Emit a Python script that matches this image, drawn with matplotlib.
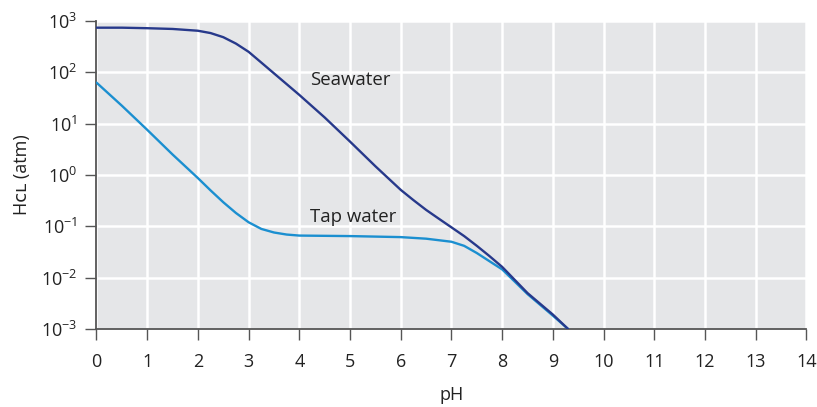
import matplotlib
matplotlib.use("Agg")
import matplotlib.pyplot as plt
from matplotlib.ticker import FixedLocator, NullLocator

plt.rcParams['font.family'] = ['Open Sans', 'DejaVu Sans']
plt.rcParams['mathtext.fontset'] = 'custom'
plt.rcParams['mathtext.rm'] = 'Open Sans'

# HCl partial pressure (atm) versus pH
ph_sea = [0, 0.5, 1, 1.5, 2, 2.25, 2.5, 2.75, 3, 3.25, 3.5, 3.75, 4, 4.5, 5, 5.5,
          5.75, 6, 6.25, 6.5, 6.75, 7, 7.25, 7.5, 7.75, 8, 8.5, 9, 9.3]
hcl_sea = [741, 741, 724, 700, 646, 582, 484, 363, 251, 155, 95.5, 58.9, 36.3, 13.2,
           4.47, 1.48, 0.871, 0.513, 0.324, 0.209, 0.141, 0.0955, 0.0646, 0.0417,
           0.0263, 0.0162, 0.00501, 0.00191, 0.001]

ph_tap = [0, 0.5, 1, 1.5, 2, 2.25, 2.5, 2.75, 3, 3.25, 3.5, 3.75, 4, 5, 6, 6.5, 7,
          7.25, 7.5, 7.75, 8, 8.5, 9, 9.3]
hcl_tap = [63.1, 22.4, 7.59, 2.51, 0.871, 0.501, 0.295, 0.182, 0.120, 0.0891, 0.0759,
           0.0692, 0.0661, 0.0646, 0.0617, 0.0575, 0.0501, 0.0417, 0.0302, 0.0209,
           0.0145, 0.00479, 0.00182, 0.001]

x_ticks = list(range(0, 15))
y_exponents = [-3, -2, -1, 0, 1, 2, 3]

labels = {"Seawater": (4.22, 70.8), "Tap water": (4.22, 0.151)}

fig = plt.figure(figsize=(8.17, 4.07), dpi=100)
ax = fig.add_axes([0.1181, 0.1916, 0.869, 0.7568])
ax.set_facecolor('#e5e6e8')

ax.plot(ph_tap, hcl_tap, color='#1b8fd0', lw=1.7, solid_capstyle='round',
        solid_joinstyle='round', zorder=3)
ax.plot(ph_sea, hcl_sea, color='#27398b', lw=1.7, solid_capstyle='round',
        solid_joinstyle='round', zorder=3)

ax.set_yscale('log')
ax.set_xlim(0, 14)
ax.set_ylim(1e-3, 1e3)
ax.xaxis.set_major_locator(FixedLocator(x_ticks))
ax.set_xticklabels([str(t) for t in x_ticks])
ax.yaxis.set_major_locator(FixedLocator([10.0 ** e for e in y_exponents]))
ax.yaxis.set_minor_locator(NullLocator())
ax.set_yticklabels([r'$\mathregular{10^{%d}}$' % e for e in y_exponents])

ax.grid(True, color='white', lw=1.8, zorder=1)
ax.set_axisbelow(True)

for side in ('top', 'right'):
    ax.spines[side].set_visible(False)
for side in ('left', 'bottom'):
    ax.spines[side].set_color('#555555')
    ax.spines[side].set_linewidth(1.3)

ax.tick_params(axis='both', direction='out', length=8, width=1.0, color='#555555',
               labelsize=13, labelcolor='#222222')
ax.tick_params(axis='x', pad=9)
ax.tick_params(axis='y', pad=6)

ax.set_xlabel('pH', fontsize=13, color='#222222', labelpad=11)
ax.set_ylabel('Hᴄʟ (atm)', fontsize=13, color='#222222', labelpad=7)

for text, (x, y) in labels.items():
    ax.text(x, y, text, fontsize=13.4, color='#222222', va='center', ha='left')

fig.savefig('out.png', dpi=100)
